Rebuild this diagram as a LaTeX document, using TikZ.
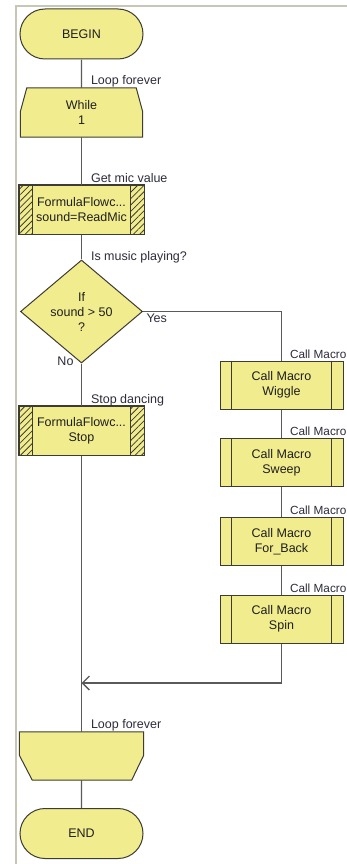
\documentclass[tikz,border=0pt]{standalone}
\usepackage{fontspec}
\setmainfont{Liberation Sans}
\usetikzlibrary{shapes.misc,shapes.geometric,patterns.meta,arrows.meta,calc}
\definecolor{boxfill}{RGB}{241,236,142}
\definecolor{boxline}{RGB}{60,60,50}
\definecolor{wire}{RGB}{90,90,90}
\definecolor{framec}{RGB}{200,198,180}
\definecolor{lbltext}{RGB}{45,45,60}
\begin{document}
\begin{tikzpicture}[x=1pt,y=-1pt,
  every node/.style={font=\fontsize{12.5}{15}\selectfont, text=black!88},
  terminal/.style={rounded rectangle, draw=boxline, fill=boxfill, line width=1pt,
    minimum width=123pt, minimum height=50pt, inner sep=0pt},
  holder/.style={draw=none, inner sep=0pt, align=center},
  proc/.style={rectangle, draw=boxline, fill=boxfill, line width=1pt,
    minimum width=125pt, minimum height=49pt, inner sep=0pt, align=center},
  macro/.style={rectangle, draw=boxline, fill=boxfill, line width=1pt,
    minimum width=123pt, minimum height=48pt, inner sep=0pt, align=center},
  decision/.style={diamond, draw=boxline, fill=boxfill, line width=1pt,
    minimum width=122pt, minimum height=103pt, inner sep=0pt, align=center, shape aspect=1.18},
  outline/.style={draw=boxline, fill=boxfill, line width=1pt, line join=miter},
  hatch/.style={pattern={Lines[angle=45,distance=4.5pt,line width=0.8pt]}, pattern color=boxline},
  wire/.style={draw=wire, line width=1.2pt},
  lbl/.style={anchor=base west, text=lbltext},
  mlbl/.style={anchor=base west, text=lbltext, font=\fontsize{11.8}{14}\selectfont}
]
\useasboundingbox (0,0) rectangle (347,864);
\fill[white] (0,0) rectangle (347,864);
% frame
\draw[framec, line width=2pt] (16,864) -- (16,6) -- (347,6);

% nodes
\node[terminal] (begin) at (81.5,34) {BEGIN};
\node[holder, minimum width=122pt, minimum height=49pt] (while) at (81.5,112.5) {};
\draw[outline] ([xshift=6.5pt]while.north west) -- ([xshift=-6.5pt]while.north east)
  -- ([yshift=-24pt]while.north east) -- (while.south east) -- (while.south west)
  -- ([yshift=-24pt]while.north west) -- cycle;
\node[holder] at (while.center) {While\\1};

\node[proc] (mic) at (81.5,209.5) {FormulaFlowc...\\sound=ReadMic};
\fill[hatch] (mic.north west) rectangle ([xshift=14pt]mic.south west);
\fill[hatch] (mic.north east) rectangle ([xshift=-14pt]mic.south east);
\draw[boxline, line width=1pt] ([xshift=14pt]mic.north west) -- ([xshift=14pt]mic.south west)
  ([xshift=-14pt]mic.north east) -- ([xshift=-14pt]mic.south east);
\draw[boxline, line width=1pt] (mic.north west) rectangle (mic.south east);

\node[decision] (dia) at (81.5,311.5) {If\\sound > 50\\?};

\node[proc] (stop) at (81.5,430.5) {FormulaFlowc...\\Stop};
\fill[hatch] (stop.north west) rectangle ([xshift=14pt]stop.south west);
\fill[hatch] (stop.north east) rectangle ([xshift=-14pt]stop.south east);
\draw[boxline, line width=1pt] ([xshift=14pt]stop.north west) -- ([xshift=14pt]stop.south west)
  ([xshift=-14pt]stop.north east) -- ([xshift=-14pt]stop.south east);
\draw[boxline, line width=1pt] (stop.north west) rectangle (stop.south east);

\node[holder, minimum width=124pt, minimum height=48pt] (loopend) at (81.5,756) {};
\draw[outline] (loopend.north west) -- (loopend.north east)
  -- ([yshift=25pt]loopend.south east) -- ([xshift=-12pt]loopend.south east)
  -- ([xshift=13pt]loopend.south west) -- ([yshift=25pt]loopend.south west) -- cycle;

\node[terminal] (end) at (81.5,833.5) {END};

\foreach \n/\y/\t in {wig/385/Wiggle, swp/462.5/Sweep, fb/541.5/For\_Back, spin/619/Spin}{
  \node[macro] (\n) at (281.5,\y) {Call Macro\\\t};
  \draw[boxline, line width=1pt] ([xshift=12pt]\n.north west) -- ([xshift=12pt]\n.south west)
    ([xshift=-12pt]\n.north east) -- ([xshift=-12pt]\n.south east);
}

\coordinate (join) at (81.5,683);

% connectors
\draw[wire] (begin) -- (while);
\draw[wire] (while) -- (mic);
\draw[wire] (mic) -- (dia);
\draw[wire] (dia.south) -- (stop);
\draw[wire] (stop) -- (loopend);
\draw[wire] (loopend) -- (end);
\draw[wire] (dia.east) -| (wig.north);
\draw[wire] (wig) -- (swp);
\draw[wire] (swp) -- (fb);
\draw[wire] (fb) -- (spin);
\draw[wire, -{Straight Barb[length=7pt,width=14pt,line width=1.3pt]}] (spin.south) |- (join);

% labels
\node[lbl] (t1) at (87.5,84.5) {Loop forever};
\node[lbl] (t2) at (87.5,182) {Get mic value};
\node[lbl] (t3) at (87.5,260.5) {Is music playing?};
\node[lbl] (t4) at (143,322) {Yes};
\node[anchor=base east, text=lbltext] (t5) at (77,365) {No};
\node[lbl] (t6) at (87.5,403) {Stop dancing};
\node[mlbl] (t7) at (286.5,358) {Call Macro};
\node[mlbl] (t8) at (286.5,435) {Call Macro};
\node[mlbl] (t9) at (286.5,514) {Call Macro};
\node[mlbl] (t10) at (286.5,592) {Call Macro};
\node[lbl] (t11) at (87.5,728.5) {Loop forever};
\end{tikzpicture}
\end{document}
